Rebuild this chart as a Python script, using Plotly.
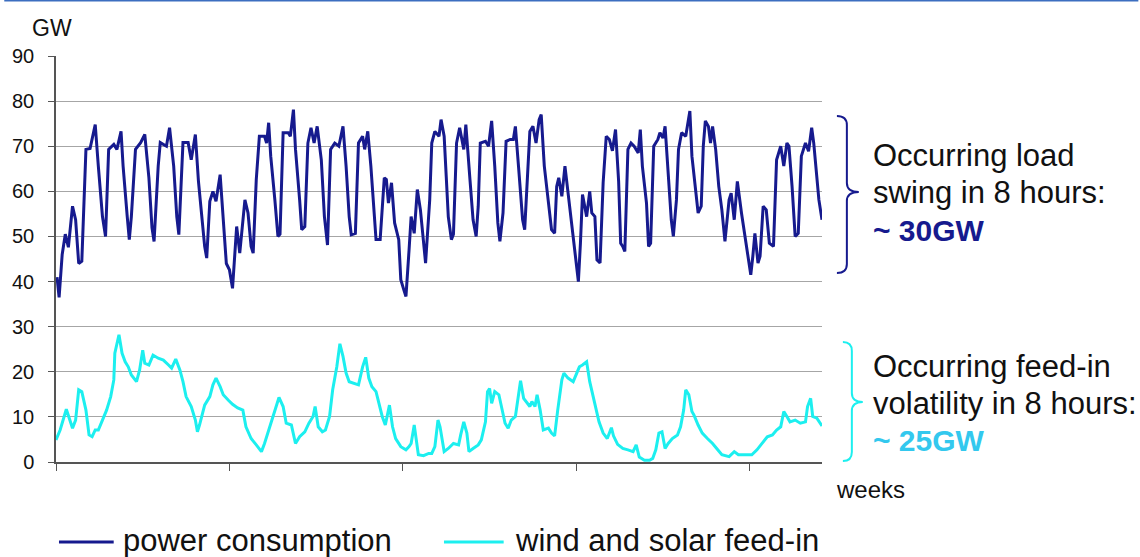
import plotly.graph_objects as go

# ---------------- data ----------------
# time axis in hours from the start of the shown period (~31 days)
cons_hours = [3,5,8,11,14,18,21,24,27,31,35,40,43,47,50,53,58,61,65,67,71,73,75,79,84,88,92,95,97,101,
              103,109,112,116,119,121,125,130,133,137,140,143,146,148,151,154,157,161,164,167,
              170,173,177,180,185,188,191,193,196,199,204,206,208,210,214,217,219,222,227,229,
              232,234,238,240,243,246,249,252,255,259,262,265,268,272,276,280,283,286,288,292,
              295,299,301,304,307,310,312,316,320,322,324,327,330,334,336,339,341,344,346,349,
              352,355,358,360,364,366,369,373,375,378,380,382,385,387,390,393,397,399,403,406,
              409,411,413,418,421,424,427,430,432,435,438,442,445,447,450,454,456,459,461,464,
              467,470,472,475,479,482,485,487,489,492,495,498,501,504,508,510,512,516,519,521,
              524,526,529,532,535,538,541,544,547,549,551,553,556,559,562,566,568,570,574,576,
              578,581,585,587,590,592,595,598,600,603,605,608,612,616,618,622,624,627,629,631,
              634,636,638,641,644,647,650,654,656,659,662,666,669,672,675,677,679,682,684,687,
              690,693,697,700,704,707,710,712,715,718,721,724,728,731,734,736,739,741,744]
cons_gw = [41,36.5,46,50.5,47.6,56.7,53.7,44,44.5,69.3,69.5,74.8,65.6,54.4,50,69.3,70.4,69.3,73.3,65.6,
           54.4,49.3,54.4,69.3,70.8,72.6,63,51.9,48.9,65.6,70.8,70,74.1,65.6,54.4,50.4,70.8,70.8,67,72.6,
           62.2,54.4,47.8,45.2,57.8,60,57.8,63.7,54.4,44,42.6,38.5,52.2,46.3,58.1,55.2,47.8,46.3,62.6,72.2,
           72.2,70.7,75.2,67.8,58.1,50,50.5,73,73,72.2,78.1,69.3,58.1,51.5,52.2,70.7,74.1,70.7,74.4,67,
           54.4,48.1,69.3,70.7,70,74.4,65.6,54.4,50.4,50.7,70.7,72.2,69.3,73.3,65.6,54.4,49.3,49.3,63,62.6,
           57.4,61.9,53,49.3,40.4,38.1,36.7,47,54.4,50.7,60.4,55.9,47.8,44.1,58.1,70.7,73.3,72.2,75.9,72.2,
           63.3,54.4,49.3,50.5,70.7,74.1,69.3,74.8,62.6,53.7,50,56.7,70.7,71.1,70,75.6,65.6,53,48.9,55.2,
           71.1,71.5,71.5,74.4,65.6,53.7,51.5,65.6,73.3,74.4,70.7,75.9,77,65.6,56.7,51.5,50.7,61.1,63,58.9,
           65.6,59.6,54.4,47.8,40,48.5,59.3,54.4,60,55.2,54.4,44.8,44.1,61.9,72.2,71.5,69,73.7,62.2,48.5,
           47.8,46.7,69.3,70.7,70,68.5,73.7,65.6,57.4,47.8,48.5,70,71.5,73,71.8,74.4,64,53.7,50,58.1,
           69.3,73,72.2,77.8,67.8,58.9,55.2,56.7,70,75.6,74.4,70.7,74.4,69.3,61.1,55.9,48.9,58.1,59.6,53.7,
           62.2,55.2,50.7,46.3,41.5,45.6,50.7,44.1,45.6,56.7,55.9,48.5,47.8,67,70,65.6,70.7,70,61.1,50,
           50.7,67.8,70.7,68.9,74.1,70.7,63.3,58.1,53.7]

feed_hours = [2,6,12,14,18,21,24,27,31,34,37,40,43,47,51,55,58,59,63,66,69,72,75,80,83,86,88,92,96,101,
              106,111,114,118,122,125,128,133,137,139,141,146,151,154,157,161,164,169,173,178,
              183,186,191,196,201,204,209,214,218,222,225,230,234,238,243,247,251,253,256,260,
              263,267,270,274,277,280,283,286,291,295,299,302,305,308,312,315,318,321,323,325,
              328,331,336,341,344,346,349,351,353,358,363,366,369,372,374,378,382,387,392,394,
              397,400,402,406,411,414,418,420,422,424,427,431,434,437,440,443,447,450,452,455,
              459,461,463,466,468,471,474,479,482,485,488,492,494,498,503,506,509,512,516,519,
              522,525,528,532,536,540,542,546,551,556,561,564,567,572,577,580,583,586,589,592,
              595,599,604,607,610,612,615,618,620,624,628,633,638,643,647,654,659,663,670,676,
              681,686,691,696,700,704,707,710,713,718,723,728,730,733,735,739,741,744]
feed_gw = [4.9,7.1,11.7,10.4,7.5,9.3,16,15.6,11.5,6,5.6,7.1,7.1,9.3,11.5,14.5,18.2,24.1,28.2,24.1,
           22.2,21.1,19.3,17.8,20.4,24.8,21.9,21.5,23.7,23,22.6,21.5,20.8,22.8,20.4,17.8,14.5,12.3,9.3,6.7,
           8.2,12.6,14.5,17.1,18.6,16.7,14.9,13.7,12.8,12,11.5,7.8,5.2,3.8,2.3,4.1,7.8,11.5,14.3,12.3,
           8.6,8.2,4.1,5.6,6.7,8.6,10.1,12.3,7.8,6.7,7.1,10.1,16,21.1,26.2,23.4,19.7,17.8,17.4,17.1,
           21.1,23.2,18.6,16.7,15.6,13,10.1,8.2,10.4,12.6,7.8,5.2,3.4,2.7,3.4,4.1,8.2,4.9,1.6,1.4,
           1.9,1.9,3.4,9.3,7.8,2.3,3,4.1,3.8,6,8.9,6.4,2.3,3,3.8,4.9,8.9,15.6,16.3,13,
           15.6,14.9,11.5,8.6,7.5,9.3,10.1,15.6,18,14.1,13,12.3,13.4,12.3,14.9,11.5,7.1,7.5,6.4,5.8,
           11.5,18.2,19.7,18.6,17.8,19.3,21.1,21.5,22.2,17.8,14.9,11.9,8.9,6.4,5.2,7.6,5.8,3.9,3,2.7,
           2.3,3.8,1.1,0.4,0.4,0.8,2.7,6.4,6.7,3,4.1,5.2,6,7.8,11.5,16,14.9,11.2,10.4,8.2,
           6.4,5.2,4.1,2.7,1.6,1.2,2.3,1.6,1.6,1.6,2.7,4.1,5.6,6,7.1,7.8,11.2,10.1,8.9,9.3,
           8.6,8.9,12.3,14.1,10.1,9.7,8.9,8]

series_names = ["power consumption", "wind and solar feed-in"]
y_ticks = [0, 10, 20, 30, 40, 50, 60, 70, 80, 90]
load_note = ["Occurring load", "swing in 8 hours:", "~ 30GW"]
feed_note = ["Occurring feed-in", "volatility in 8 hours:", "~ 25GW"]

# ---------------- styling ----------------
NAVY = "#161a8e"
CYAN = "#1cefef"
SKY = "#33c8ee"
FONT = "Liberation Sans, Arial, sans-serif"
W, H = 1140, 557
L, R, T, B = 52, 318, 56, 95
PW, PH = W - L - R, H - T - B


def px(x):
    return (x - L) / PW


def py(y):
    return (H - B - y) / PH


fig = go.Figure()
fig.add_trace(go.Scatter(x=cons_hours, y=cons_gw, mode="lines", name=series_names[0],
                         line=dict(color=NAVY, width=3), showlegend=False))
fig.add_trace(go.Scatter(x=feed_hours, y=feed_gw, mode="lines", name=series_names[1],
                         line=dict(color=CYAN, width=3), showlegend=False))


def brace(x0, xv, xt, ytop, ymid, ybot, d=9):
    pts = [
        f"M{px(x0)},{py(ytop)}",
        f"Q{px(xv)},{py(ytop)} {px(xv)},{py(ytop + d)}",
        f"L{px(xv)},{py(ymid - d)}",
        f"Q{px(xv)},{py(ymid)} {px(xt)},{py(ymid)}",
        f"Q{px(xv)},{py(ymid)} {px(xv)},{py(ymid + d)}",
        f"L{px(xv)},{py(ybot - d)}",
        f"Q{px(xv)},{py(ybot)} {px(x0)},{py(ybot)}",
    ]
    return " ".join(pts)


shapes = [
    # slide accent line on top
    dict(type="line", xref="paper", yref="paper", x0=px(0), x1=px(W), y0=py(0.8), y1=py(0.8),
         line=dict(color="#3c6ec0", width=1.5)),
    dict(type="path", xref="paper", yref="paper", path=brace(837, 847, 859, 116, 192, 273),
         line=dict(color=NAVY, width=2)),
    dict(type="path", xref="paper", yref="paper", path=brace(843, 852, 863, 342, 402, 461),
         line=dict(color=CYAN, width=2)),
    # legend keys
    dict(type="line", xref="paper", yref="paper", x0=px(55), x1=px(110), y0=py(542), y1=py(542),
         line=dict(color=NAVY, width=3)),
    dict(type="line", xref="paper", yref="paper", x0=px(442), x1=px(502), y0=py(542), y1=py(542),
         line=dict(color=CYAN, width=3)),
]

ann = []


def text(x, y, s, size, color="#111111", bold=False, anchor="left"):
    ann.append(dict(xref="paper", yref="paper", x=px(x), y=py(y), text=f"<b>{s}</b>" if bold else s,
                    showarrow=False, xanchor=anchor, yanchor="middle", borderpad=0,
                    font=dict(family=FONT, size=size, color=color)))


text(27, 28, "GW", 23)
text(835, 490, "weeks", 24)
text(872, 155, load_note[0], 31)
text(872, 192, load_note[1], 31)
text(872, 230, load_note[2], 30, NAVY, bold=True)
text(872, 366, feed_note[0], 31)
text(872, 403, feed_note[1], 31)
text(872, 440, feed_note[2], 30, SKY, bold=True)
text(118, 540, series_names[0], 31)
text(512, 540, series_names[1], 31)

fig.update_layout(
    width=W, height=H,
    margin=dict(l=L, r=R, t=T, b=B),
    paper_bgcolor="white", plot_bgcolor="white",
    font=dict(family=FONT, color="#111111"),
    shapes=shapes, annotations=ann,
    showlegend=False,
)
fig.update_xaxes(range=[2, 744], tickmode="linear", tick0=2, dtick=168,
                 showticklabels=False, ticks="outside", ticklen=7, tickcolor="#555555",
                 showgrid=False, zeroline=False, showline=True, linecolor="#555555", linewidth=1.5)
fig.update_yaxes(range=[0, 90], tickmode="array", tickvals=y_ticks,
                 ticks="outside", ticklen=6, tickcolor="#555555", ticklabelstandoff=10,
                 tickfont=dict(family=FONT, size=20, color="#111111"),
                 showgrid=True, gridcolor="#a6a6a6", gridwidth=1,
                 zeroline=False, showline=True, linecolor="#555555", linewidth=1.5)

fig.write_html("out.html")
